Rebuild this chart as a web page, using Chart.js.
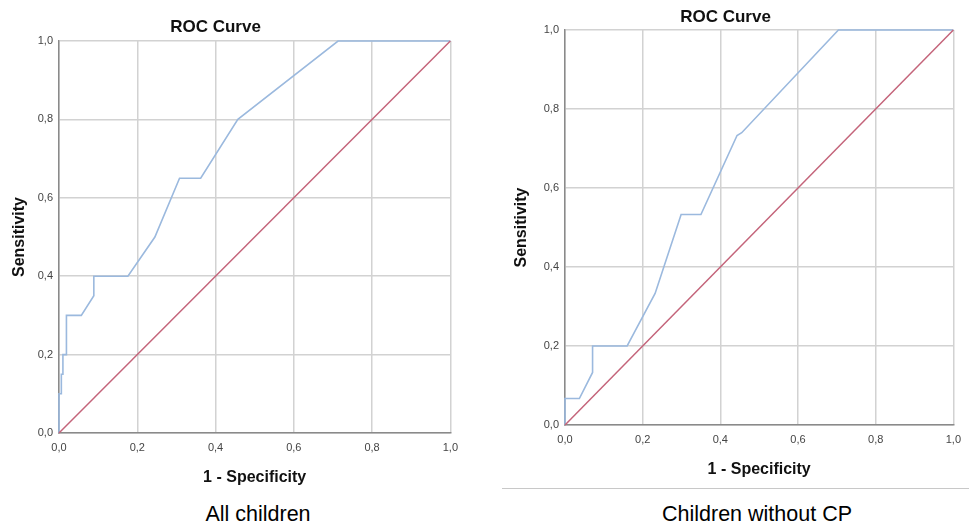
<!DOCTYPE html>
<html>
<head>
<meta charset="utf-8">
<script src="https://cdn.jsdelivr.net/npm/chart.js@4"></script>
<style>
  html, body { margin: 0; padding: 0; background: #ffffff; overflow: hidden; }
  body { width: 969px; height: 525px; position: relative; font-family: "Liberation Sans", Arial, sans-serif; }
  .wrap { position: absolute; }
  .cap { position: absolute; font-size: 21.5px; color: #000; white-space: nowrap; transform: translate(-50%, -50%); }
  .rule { position: absolute; left: 502px; top: 488px; width: 467px; height: 1px; background: #c8c8c8; }
</style>
</head>
<body>
<div class="wrap" id="w1" style="left:-20px; top:0px; width:486px; height:500px;"><canvas id="c1"></canvas></div>
<div class="wrap" id="w2" style="left:491px; top:0px; width:478px; height:490px;"><canvas id="c2"></canvas></div>
<div class="rule"></div>
<div class="cap" style="left:258px; top:514px;">All children</div>
<div class="cap" style="left:757px; top:514px;">Children without CP</div>
<script>
// ---- data ----
const tickLabels = ['0,0', '0,2', '0,4', '0,6', '0,8', '1,0'];
const chartTitle = 'ROC Curve';
const xTitle = '1 - Specificity';
const yTitle = 'Sensitivity';

const allChildrenX = [0, 0, 0.006, 0.006, 0.010, 0.010, 0.019, 0.019, 0.057, 0.089, 0.089, 0.176, 0.245, 0.308, 0.362, 0.457, 0.713, 1.0];
const allChildrenY = [0, 0.10, 0.10, 0.15, 0.15, 0.20, 0.20, 0.30, 0.30, 0.35, 0.40, 0.40, 0.50, 0.65, 0.65, 0.80, 1.0, 1.0];

const noCpX = [0, 0, 0.037, 0.071, 0.071, 0.160, 0.232, 0.299, 0.350, 0.443, 0.455, 0.704, 1.0];
const noCpY = [0, 0.067, 0.067, 0.133, 0.200, 0.200, 0.333, 0.533, 0.533, 0.733, 0.740, 1.0, 1.0];

const refX = [0, 1];
const refY = [0, 1];

// ---- helpers ----
function pts(xs, ys) { return xs.map((x, i) => ({ x: x, y: ys[i] })); }

function makeChart(id, curveX, curveY, geo) {
  const ctx = document.getElementById(id);
  return new Chart(ctx, {
    type: 'scatter',
    data: {
      datasets: [
        {
          data: pts(refX, refY),
          showLine: true,
          borderColor: '#c4647a',
          borderWidth: 1.5,
          pointRadius: 0,
          clip: false
        },
        {
          data: pts(curveX, curveY),
          showLine: true,
          borderColor: '#9bb9de',
          borderWidth: 1.6,
          pointRadius: 0,
          tension: 0,
          clip: false
        }
      ]
    },
    options: {
      responsive: true,
      maintainAspectRatio: false,
      animation: false,
      events: [],
      layout: { padding: { left: 0, top: 0, right: geo.padRight, bottom: 0 } },
      plugins: {
        legend: { display: false },
        tooltip: { enabled: false },
        title: {
          display: true,
          text: chartTitle,
          color: '#111',
          font: { family: '"Liberation Sans", Arial, sans-serif', size: 17, weight: 'bold', lineHeight: 1.2 },
          padding: { top: geo.titleTop, bottom: geo.titleBottom }
        }
      },
      scales: {
        x: {
          type: 'linear',
          min: 0, max: 1,
          afterFit: (s) => { s.height = geo.xHeight; },
          ticks: {
            stepSize: 0.2,
            autoSkip: false,
            maxRotation: 0,
            padding: 8,
            color: '#444',
            font: { family: '"Liberation Sans", Arial, sans-serif', size: 11 },
            callback: (v, i) => tickLabels[i]
          },
          grid: { color: '#d2d2d2', lineWidth: 1.5, drawTicks: false },
          border: { display: true, color: '#8a8a8a', width: 1.5 },
          title: {
            display: true,
            text: xTitle,
            color: '#111',
            font: { family: '"Liberation Sans", Arial, sans-serif', size: 16, weight: 'bold', lineHeight: 1.2 },
            padding: { top: 0, bottom: geo.xTitleBottom }
          }
        },
        y: {
          type: 'linear',
          min: 0, max: 1,
          afterFit: (s) => { s.width = geo.yWidth; },
          ticks: {
            stepSize: 0.2,
            autoSkip: false,
            padding: 6,
            color: '#444',
            font: { family: '"Liberation Sans", Arial, sans-serif', size: 11 },
            callback: (v, i) => tickLabels[i]
          },
          grid: { color: '#d2d2d2', lineWidth: 1.5, drawTicks: false },
          border: { display: true, color: '#8a8a8a', width: 1.5 },
          title: {
            display: true,
            text: yTitle,
            color: '#111',
            font: { family: '"Liberation Sans", Arial, sans-serif', size: 16, weight: 'bold', lineHeight: 1.2 },
            padding: { top: geo.yTitleTop, bottom: 0 }
          }
        }
      }
    }
  });
}

makeChart('c1', allChildrenX, allChildrenY, {
  padRight: 15, titleTop: 17.5, titleBottom: 3.1, xHeight: 67, xTitleBottom: 12.4, yWidth: 79, yTitleTop: 30.4
});
makeChart('c2', noCpX, noCpY, {
  padRight: 9, titleTop: 6.8, titleBottom: 2.8, xHeight: 65, xTitleBottom: 10.4, yWidth: 74, yTitleTop: 21.4
});
</script>
</body>
</html>
